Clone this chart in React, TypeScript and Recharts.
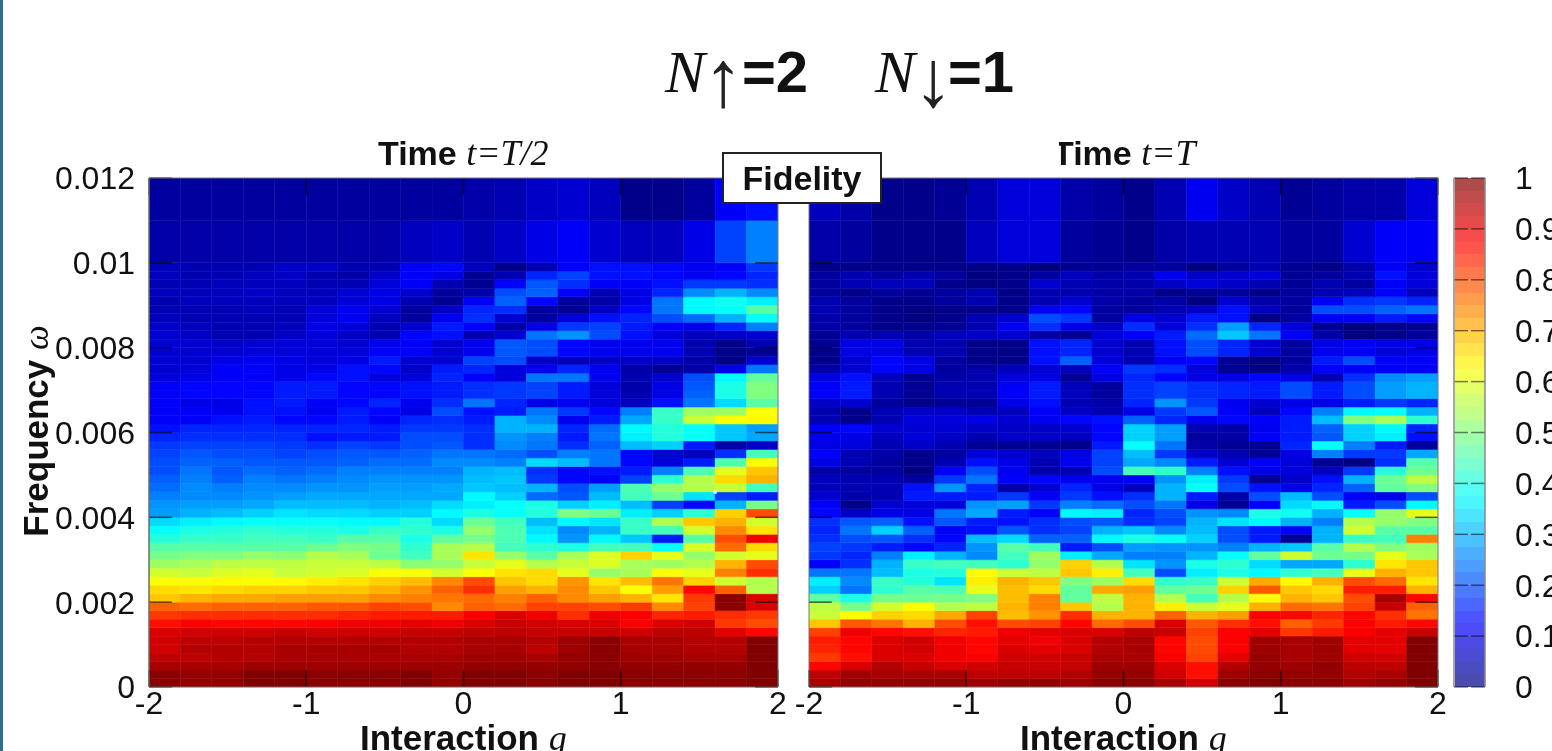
import { Bar, BarChart, Cell, ReferenceDot, ReferenceLine, XAxis, YAxis } from 'recharts';

// interaction g at the centre of each column
const gCenters = [-1.9, -1.7, -1.5, -1.3, -1.1, -0.9, -0.7, -0.5, -0.3, -0.1, 0.1, 0.3, 0.5, 0.7, 0.9, 1.1, 1.3, 1.5, 1.7, 1.9];

// height of each frequency row, top row first
const rowHeights = [
  0.001, 0.001,
  0.0002, 0.0002, 0.0002, 0.0002, 0.0002, 0.0002, 0.0002, 0.0002, 0.0002, 0.0002,
  0.0002, 0.0002, 0.0002, 0.0002, 0.0002, 0.0002, 0.0002, 0.0002, 0.0002, 0.0002,
  0.0002, 0.0002, 0.0002, 0.0002, 0.0002, 0.0002, 0.0002, 0.0002, 0.0002, 0.0002,
  0.0002, 0.0002, 0.0002, 0.0002, 0.0002, 0.0002, 0.0002, 0.0002, 0.0002, 0.0002,
  0.0002, 0.0002, 0.0002, 0.0002, 0.0002, 0.0002, 0.0002, 0.0002, 0.0002, 0.0002,
];

// fidelity in percent, top row first
const fidelityHalf = [
  [3, 3, 3, 3, 3, 3, 3, 3, 3, 3, 4, 5, 7, 8, 6, 1, 1, 3, 12, 14],
  [4, 4, 4, 4, 4, 4, 4, 4, 6, 7, 5, 7, 10, 12, 8, 6, 6, 10, 19, 25],
  [6, 5, 5, 5, 7, 7, 5, 5, 12, 13, 6, 1, 5, 12, 14, 14, 13, 11, 12, 18],
  [6, 5, 5, 6, 7, 5, 4, 7, 12, 10, 2, 5, 16, 19, 14, 14, 13, 11, 13, 16],
  [5, 5, 6, 6, 6, 5, 5, 9, 12, 5, 2, 13, 21, 17, 12, 12, 14, 18, 18, 17],
  [6, 6, 6, 7, 6, 6, 8, 10, 8, 3, 4, 20, 22, 12, 5, 10, 16, 26, 30, 26],
  [5, 6, 6, 6, 6, 6, 9, 10, 5, 2, 12, 22, 13, 3, 4, 10, 24, 37, 39, 36],
  [5, 5, 5, 6, 5, 9, 11, 8, 3, 7, 16, 17, 3, 2, 7, 13, 24, 37, 38, 46],
  [6, 5, 5, 5, 5, 9, 11, 6, 3, 11, 17, 8, 3, 9, 14, 16, 20, 23, 30, 38],
  [7, 6, 5, 5, 6, 10, 9, 5, 8, 15, 12, 4, 10, 18, 19, 15, 12, 10, 16, 25],
  [8, 7, 5, 5, 7, 9, 7, 5, 13, 14, 5, 8, 24, 27, 20, 14, 9, 6, 7, 8],
  [8, 8, 7, 8, 9, 9, 8, 11, 12, 8, 11, 21, 20, 13, 11, 11, 11, 5, 1, 5],
  [8, 8, 8, 9, 9, 9, 9, 12, 12, 8, 11, 21, 20, 13, 11, 11, 11, 5, 1, 2],
  [8, 8, 10, 11, 10, 9, 10, 15, 8, 8, 19, 20, 7, 6, 7, 7, 7, 4, 1, 8],
  [8, 9, 12, 12, 10, 10, 14, 13, 7, 15, 16, 9, 11, 16, 11, 4, 2, 4, 11, 24],
  [9, 10, 12, 12, 10, 13, 14, 9, 9, 16, 12, 9, 24, 24, 11, 5, 8, 20, 37, 47],
  [12, 13, 13, 13, 15, 15, 13, 13, 14, 15, 17, 18, 19, 15, 9, 4, 10, 21, 40, 50],
  [12, 13, 13, 13, 15, 15, 13, 13, 14, 15, 17, 18, 19, 15, 9, 5, 10, 22, 40, 50],
  [12, 10, 10, 14, 15, 12, 13, 16, 11, 17, 24, 16, 10, 11, 9, 6, 14, 24, 34, 46],
  [12, 12, 11, 14, 14, 11, 15, 13, 10, 20, 14, 15, 24, 18, 13, 25, 43, 53, 53, 62],
  [12, 12, 14, 15, 13, 13, 15, 12, 16, 17, 15, 30, 26, 11, 15, 29, 43, 57, 62, 63],
  [14, 16, 16, 16, 16, 16, 16, 15, 18, 18, 17, 30, 30, 16, 23, 37, 41, 38, 32, 28],
  [16, 17, 17, 17, 17, 14, 15, 15, 20, 20, 17, 27, 25, 15, 24, 36, 41, 38, 32, 29],
  [18, 19, 19, 19, 18, 17, 19, 18, 20, 21, 17, 26, 24, 17, 22, 31, 33, 15, 4, 7],
  [19, 21, 20, 20, 19, 20, 21, 21, 22, 24, 24, 23, 20, 25, 24, 13, 8, 6, 17, 44],
  [20, 22, 22, 21, 21, 21, 22, 23, 23, 26, 26, 25, 34, 31, 24, 13, 9, 15, 45, 62],
  [20, 24, 21, 23, 22, 23, 25, 25, 25, 25, 30, 31, 17, 13, 14, 15, 25, 45, 60, 68],
  [22, 25, 22, 25, 24, 25, 26, 27, 27, 27, 31, 32, 18, 13, 12, 19, 42, 55, 66, 70],
  [23, 26, 25, 26, 26, 27, 27, 28, 28, 29, 32, 31, 30, 20, 28, 45, 52, 55, 57, 44],
  [25, 26, 26, 27, 28, 29, 29, 29, 29, 29, 37, 33, 23, 21, 31, 44, 48, 35, 19, 15],
  [27, 28, 28, 29, 31, 31, 31, 30, 31, 34, 36, 38, 40, 33, 36, 31, 19, 13, 30, 49],
  [28, 30, 31, 33, 35, 34, 34, 33, 33, 37, 40, 38, 41, 50, 48, 36, 33, 42, 67, 80],
  [34, 36, 37, 38, 38, 38, 37, 37, 41, 34, 48, 44, 31, 37, 35, 43, 54, 68, 70, 58],
  [38, 40, 41, 42, 41, 41, 40, 43, 42, 40, 52, 45, 35, 26, 30, 43, 44, 58, 74, 65],
  [41, 43, 43, 44, 44, 43, 46, 46, 40, 47, 49, 45, 37, 27, 37, 32, 15, 46, 80, 89],
  [46, 46, 46, 46, 46, 48, 50, 49, 42, 54, 55, 44, 42, 40, 44, 44, 38, 59, 77, 66],
  [49, 50, 50, 52, 51, 55, 54, 48, 44, 54, 65, 52, 46, 54, 59, 67, 60, 52, 58, 60],
  [53, 54, 56, 56, 56, 57, 57, 56, 51, 52, 57, 60, 55, 57, 59, 54, 53, 55, 70, 80],
  [58, 57, 59, 60, 57, 58, 59, 62, 62, 58, 62, 65, 66, 60, 52, 54, 62, 60, 75, 83],
  [62, 62, 63, 62, 63, 64, 65, 67, 69, 74, 80, 68, 66, 73, 65, 69, 76, 67, 58, 55],
  [66, 65, 66, 67, 67, 68, 68, 70, 73, 78, 83, 72, 70, 74, 68, 62, 72, 87, 78, 55],
  [68, 70, 71, 71, 72, 72, 72, 74, 75, 76, 77, 75, 78, 74, 72, 70, 65, 82, 99, 91],
  [78, 77, 78, 78, 78, 79, 79, 81, 80, 74, 78, 77, 81, 81, 80, 82, 74, 81, 99, 91],
  [82, 83, 83, 83, 83, 83, 84, 85, 85, 85, 88, 91, 89, 83, 89, 88, 84, 85, 83, 82],
  [86, 88, 87, 87, 87, 88, 89, 89, 90, 89, 91, 93, 92, 91, 91, 88, 91, 92, 82, 80],
  [91, 92, 92, 92, 93, 92, 92, 92, 93, 93, 94, 94, 93, 93, 93, 92, 94, 94, 90, 87],
  [92, 94, 94, 95, 95, 95, 95, 95, 95, 95, 96, 96, 95, 97, 99, 96, 96, 95, 95, 100],
  [92, 95, 95, 95, 96, 96, 96, 96, 95, 95, 96, 96, 94, 97, 99, 96, 96, 95, 95, 100],
  [94, 94, 95, 95, 96, 96, 96, 96, 96, 96, 97, 97, 96, 98, 99, 97, 97, 96, 96, 100],
  [96, 96, 96, 97, 97, 97, 97, 97, 97, 97, 98, 98, 98, 98, 99, 98, 98, 98, 98, 100],
  [99, 98, 98, 100, 100, 99, 99, 99, 100, 98, 100, 100, 99, 100, 100, 99, 99, 99, 99, 100],
  [99, 98, 98, 100, 100, 99, 99, 99, 100, 98, 100, 100, 99, 100, 100, 99, 99, 99, 99, 100],
];

const fidelityFull = [
  [6, 4, 1, 1, 2, 5, 9, 9, 4, 3, 1, 5, 11, 7, 5, 2, 3, 4, 4, 9],
  [4, 3, 1, 1, 1, 6, 9, 9, 3, 2, 1, 4, 5, 5, 5, 3, 3, 8, 12, 12],
  [1, 1, 1, 1, 1, 1, 1, 0, 2, 2, 3, 3, 0, 3, 5, 2, 1, 4, 12, 8],
  [3, 5, 3, 5, 3, 0, 1, 3, 6, 4, 5, 11, 7, 8, 9, 2, 3, 5, 14, 9],
  [3, 5, 6, 6, 1, 0, 1, 8, 5, 4, 4, 7, 9, 7, 5, 2, 5, 3, 12, 9],
  [3, 1, 3, 2, 3, 5, 1, 5, 5, 4, 4, 1, 2, 3, 1, 3, 5, 6, 12, 6],
  [5, 3, 1, 1, 3, 5, 1, 5, 8, 4, 3, 4, 0, 8, 4, 3, 12, 17, 18, 16],
  [5, 3, 1, 0, 1, 1, 1, 11, 13, 3, 3, 5, 7, 14, 6, 3, 20, 20, 22, 24],
  [4, 3, 1, 0, 1, 5, 8, 20, 18, 3, 10, 8, 15, 14, 0, 3, 12, 12, 15, 13],
  [4, 3, 1, 1, 2, 5, 11, 17, 10, 7, 17, 9, 17, 28, 16, 9, 2, 0, 1, 2],
  [2, 5, 5, 4, 6, 7, 8, 4, 2, 9, 12, 15, 23, 32, 24, 12, 4, 0, 1, 3],
  [2, 10, 10, 5, 5, 1, 1, 14, 16, 8, 5, 14, 20, 16, 8, 3, 10, 12, 10, 10],
  [1, 10, 10, 5, 5, 1, 1, 14, 16, 8, 5, 14, 20, 16, 8, 3, 11, 12, 9, 10],
  [1, 8, 13, 10, 3, 1, 1, 14, 22, 9, 5, 12, 13, 2, 0, 3, 15, 20, 12, 12],
  [4, 8, 13, 10, 3, 4, 6, 8, 6, 12, 18, 17, 9, 2, 0, 4, 12, 12, 12, 12],
  [10, 14, 6, 2, 4, 5, 9, 10, 2, 10, 16, 13, 10, 10, 13, 10, 5, 17, 26, 28],
  [12, 15, 5, 2, 5, 5, 12, 15, 6, 3, 17, 19, 17, 16, 15, 20, 15, 20, 28, 30],
  [12, 15, 5, 2, 5, 5, 12, 15, 6, 3, 17, 19, 17, 16, 15, 20, 15, 20, 28, 30],
  [7, 8, 3, 1, 2, 2, 10, 14, 5, 4, 16, 27, 18, 11, 8, 10, 10, 15, 18, 16],
  [5, 1, 5, 7, 7, 5, 6, 12, 7, 5, 10, 18, 21, 12, 6, 13, 25, 37, 38, 30],
  [5, 1, 5, 9, 9, 10, 8, 11, 13, 14, 22, 16, 11, 13, 12, 15, 31, 50, 54, 42],
  [12, 13, 8, 8, 8, 7, 7, 7, 8, 13, 33, 28, 5, 4, 11, 15, 22, 33, 37, 16],
  [11, 10, 6, 9, 7, 5, 7, 7, 6, 13, 33, 28, 3, 4, 12, 15, 21, 33, 36, 14],
  [10, 9, 5, 7, 5, 2, 2, 2, 1, 15, 38, 24, 4, 2, 2, 16, 38, 25, 15, 3],
  [12, 5, 4, 1, 3, 9, 8, 6, 10, 19, 31, 18, 7, 5, 2, 10, 25, 18, 18, 29],
  [10, 5, 3, 1, 5, 14, 10, 5, 11, 19, 29, 26, 15, 8, 12, 9, 2, 0, 17, 46],
  [4, 3, 3, 0, 12, 20, 11, 4, 5, 20, 44, 42, 25, 14, 10, 9, 6, 18, 41, 48],
  [6, 5, 5, 3, 18, 24, 12, 13, 11, 11, 12, 27, 36, 18, 2, 7, 14, 30, 48, 56],
  [6, 5, 5, 14, 27, 16, 4, 8, 16, 10, 6, 30, 38, 20, 14, 10, 16, 22, 47, 50],
  [8, 4, 5, 15, 15, 15, 18, 12, 18, 14, 17, 30, 15, 4, 20, 31, 20, 12, 11, 20],
  [12, 1, 8, 9, 9, 27, 28, 18, 25, 23, 20, 24, 10, 2, 12, 34, 37, 15, 20, 37],
  [13, 7, 10, 10, 24, 29, 15, 12, 37, 36, 16, 20, 27, 26, 40, 39, 30, 38, 52, 60],
  [17, 21, 22, 14, 21, 15, 14, 17, 20, 21, 17, 19, 30, 35, 37, 30, 25, 55, 52, 50],
  [16, 24, 33, 22, 12, 14, 21, 17, 19, 30, 32, 26, 31, 20, 15, 12, 30, 58, 46, 46],
  [17, 20, 21, 17, 13, 31, 34, 22, 22, 37, 40, 38, 33, 20, 15, 2, 30, 43, 44, 75],
  [19, 18, 15, 13, 16, 27, 46, 44, 15, 20, 28, 27, 27, 25, 30, 32, 46, 55, 50, 53],
  [18, 16, 25, 36, 30, 26, 44, 53, 36, 29, 25, 25, 30, 38, 47, 58, 48, 49, 60, 54],
  [12, 17, 30, 43, 44, 44, 42, 52, 67, 55, 35, 27, 40, 42, 34, 29, 29, 42, 65, 68],
  [24, 24, 31, 40, 41, 62, 57, 56, 68, 64, 44, 20, 36, 40, 37, 42, 44, 60, 70, 68],
  [36, 26, 43, 41, 35, 64, 70, 68, 50, 53, 66, 42, 43, 57, 71, 63, 70, 80, 77, 65],
  [33, 24, 42, 46, 45, 60, 69, 66, 47, 71, 72, 47, 48, 67, 79, 68, 66, 85, 85, 70],
  [47, 40, 49, 48, 49, 50, 69, 75, 47, 56, 70, 55, 44, 55, 62, 70, 68, 80, 96, 87],
  [56, 49, 58, 62, 55, 56, 70, 75, 68, 55, 70, 64, 57, 60, 70, 77, 76, 81, 93, 78],
  [57, 63, 67, 66, 71, 81, 69, 73, 83, 70, 70, 78, 70, 72, 88, 87, 84, 87, 83, 76],
  [68, 79, 76, 70, 80, 86, 80, 81, 87, 77, 80, 91, 79, 83, 86, 78, 82, 88, 85, 87],
  [81, 89, 87, 86, 84, 85, 89, 90, 91, 91, 94, 93, 81, 88, 90, 82, 85, 88, 90, 93],
  [85, 87, 91, 92, 89, 87, 90, 89, 91, 95, 96, 87, 80, 88, 97, 96, 97, 90, 90, 100],
  [84, 87, 91, 92, 89, 87, 91, 90, 91, 95, 96, 87, 80, 88, 97, 96, 97, 90, 90, 100],
  [82, 86, 91, 91, 89, 88, 92, 92, 93, 96, 96, 88, 81, 90, 98, 96, 97, 92, 92, 100],
  [87, 91, 95, 93, 91, 92, 93, 93, 93, 97, 97, 91, 86, 95, 98, 97, 98, 94, 94, 100],
  [94, 97, 96, 96, 96, 94, 94, 94, 95, 98, 98, 92, 86, 97, 99, 98, 98, 95, 96, 100],
  [96, 98, 98, 98, 98, 97, 98, 98, 97, 99, 99, 96, 92, 99, 100, 99, 99, 97, 98, 100],
];

const colorbarLevels = [
  0.0125, 0.0375, 0.0625, 0.0875, 0.1125, 0.1375, 0.1625, 0.1875, 0.2125, 0.2375,
  0.2625, 0.2875, 0.3125, 0.3375, 0.3625, 0.3875, 0.4125, 0.4375, 0.4625, 0.4875,
  0.5125, 0.5375, 0.5625, 0.5875, 0.6125, 0.6375, 0.6625, 0.6875, 0.7125, 0.7375,
  0.7625, 0.7875, 0.8125, 0.8375, 0.8625, 0.8875, 0.9125, 0.9375, 0.9625, 0.9875,
];
const colorbarStep = 0.025;

const gTicks = [-2, -1, 0, 1, 2];
const freqTicks = [0, 0.002, 0.004, 0.006, 0.008, 0.01, 0.012];
const colorbarTicks = [0, 0.1, 0.2, 0.3, 0.4, 0.5, 0.6, 0.7, 0.8, 0.9, 1];

const FONT = '"Liberation Sans", Arial, sans-serif';
const SERIF = '"Liberation Serif", "DejaVu Serif", serif';
const TICK_STYLE = { fontSize: 32, fill: '#111', fontFamily: FONT };
const MARK = '#000000a0';

function jet(v: number, alpha = 1) {
  const ch = (t: number) => Math.round(255 * Math.max(0, Math.min(1, 1.5 - Math.abs(4 * v - t))));
  return `rgba(${ch(3)},${ch(2)},${ch(1)},${alpha})`;
}

function Panel({ rows, showY, left, width, marginLeft }: { rows: number[][]; showY: boolean; left: number; width: number; marginLeft: number }) {
  const chartData = gCenters.map((g) => {
    const row: Record<string, number> = { g };
    rowHeights.forEach((h, i) => {
      row[`r${i}`] = h;
    });
    return row;
  });
  // stack from the bottom row up
  const order = rowHeights.map((_, i) => rowHeights.length - 1 - i);

  return (
    <div style={{ position: 'absolute', left, top: 0 }}>
      <BarChart
        width={width}
        height={751}
        data={chartData}
        barSize={31.4}
        barGap={0}
        margin={{ top: 178, right: 12, bottom: 0, left: showY ? 0 : marginLeft }}
      >
        <XAxis
          dataKey="g"
          type="number"
          domain={[-2, 2]}
          ticks={gTicks}
          interval={0}
          allowDataOverflow
          height={64}
          tickSize={0}
          tickMargin={4}
          tick={TICK_STYLE}
          stroke="#666"
        />
        <YAxis
          type="number"
          domain={[0, 0.012]}
          ticks={freqTicks}
          interval={0}
          allowDataOverflow
          hide={!showY}
          width={149}
          tickSize={0}
          tickMargin={14}
          tick={TICK_STYLE}
          stroke="#666"
        />
        {order.map((rowIndex) => (
          <Bar key={rowIndex} dataKey={`r${rowIndex}`} stackId="f" isAnimationActive={false}>
            {gCenters.map((g, col) => {
              const color = jet(rows[rowIndex][col] / 100);
              return <Cell key={g} fill={color} stroke={color} strokeWidth={0.5} />;
            })}
          </Bar>
        ))}
        {gTicks.map((t) => (
          <ReferenceLine key={`b${t}`} segment={[{ x: t, y: 0 }, { x: t, y: 0.0004 }]} stroke={MARK} strokeWidth={1.5} />
        ))}
        {gTicks.map((t) => (
          <ReferenceLine key={`t${t}`} segment={[{ x: t, y: 0.012 }, { x: t, y: 0.0116 }]} stroke={MARK} strokeWidth={1.5} />
        ))}
        {freqTicks.map((t) => (
          <ReferenceLine key={`l${t}`} segment={[{ x: -2, y: t }, { x: -1.855, y: t }]} stroke={MARK} strokeWidth={1.5} />
        ))}
        {freqTicks.map((t) => (
          <ReferenceLine key={`r${t}`} segment={[{ x: 2, y: t }, { x: 1.855, y: t }]} stroke={MARK} strokeWidth={1.5} />
        ))}
        <ReferenceLine y={0.012} stroke="#777" strokeWidth={1} />
        <ReferenceLine x={-2} stroke="#777" strokeWidth={1} />
        <ReferenceLine x={2} stroke="#777" strokeWidth={1} />
        {showY && <ReferenceDot x={1.6} y={0.0046} r={2} fill="#fff" stroke="none" />}
      </BarChart>
    </div>
  );
}

function Colorbar() {
  const chartData = [
    colorbarLevels.reduce<Record<string, number>>(
      (row, _, i) => {
        row[`c${i}`] = colorbarStep;
        return row;
      },
      { x: 0.5 },
    ),
  ];
  return (
    <div style={{ position: 'absolute', left: 1440, top: 0 }}>
      <BarChart width={112} height={751} data={chartData} barSize={31} margin={{ top: 178, right: 0, bottom: 64, left: 14 }}>
        <XAxis dataKey="x" type="number" domain={[0, 1]} allowDataOverflow hide />
        <YAxis
          orientation="right"
          type="number"
          domain={[0, 1]}
          ticks={colorbarTicks}
          interval={0}
          allowDataOverflow
          width={67}
          tickSize={0}
          tickMargin={30}
          axisLine={false}
          tick={TICK_STYLE}
        />
        {colorbarLevels.map((v, i) => (
          <Bar key={v} dataKey={`c${i}`} stackId="c" isAnimationActive={false} fill={jet(v, 0.7)} stroke="none" shapeRendering="crispEdges" />
        ))}
        {colorbarTicks.map((t) => (
          <ReferenceLine key={`cl${t}`} segment={[{ x: 0, y: t }, { x: 0.45, y: t }]} stroke="#00000080" strokeWidth={1.5} />
        ))}
        {colorbarTicks.map((t) => (
          <ReferenceLine key={`cr${t}`} segment={[{ x: 0.55, y: t }, { x: 1, y: t }]} stroke="#00000080" strokeWidth={1.5} />
        ))}
        <ReferenceLine x={0} stroke="#888" strokeWidth={1.5} />
        <ReferenceLine x={1} stroke="#888" strokeWidth={1.5} />
      </BarChart>
    </div>
  );
}

const text = (left: number, top: number, size: number, extra = {}) => ({
  position: 'absolute' as const,
  left,
  top,
  fontFamily: FONT,
  fontSize: size,
  fontWeight: 700,
  lineHeight: 1,
  whiteSpace: 'nowrap' as const,
  color: '#111',
  ...extra,
});
const italic = { fontFamily: SERIF, fontStyle: 'italic', fontWeight: 400 };
const arrow = { fontWeight: 400, color: '#222' };

export default function App() {
  return (
    <div style={{ position: 'fixed', inset: 0, width: 1552, height: 751, background: '#fff', overflow: 'hidden', filter: 'blur(0.5px)' }}>
      <div style={{ position: 'absolute', left: 0, top: 0, width: 3, height: 751, background: '#2a6f90' }} />

      <Panel rows={fidelityHalf} showY left={0} width={790} marginLeft={0} />
      <Panel rows={fidelityFull} showY={false} left={790} width={660} marginLeft={19} />
      <Colorbar />

      <div style={text(665, 42, 60, italic)}>N</div>
      <div style={text(703, 39, 80, arrow)}>↑</div>
      <div style={text(742, 43, 58)}>=2</div>
      <div style={text(875, 42, 60, italic)}>N</div>
      <div style={text(913, 39, 80, arrow)}>↓</div>
      <div style={text(948, 43, 58)}>=1</div>

      <div style={text(378, 135, 34)}>
        Time <span style={{ ...italic, fontSize: 36 }}>t=T/2</span>
      </div>
      <div style={text(1053, 135, 34)}>
        Time <span style={{ ...italic, fontSize: 36 }}>t=T</span>
      </div>
      <div style={{ position: 'absolute', left: 1040, top: 130, width: 19, height: 40, background: '#fff' }} />

      <div
        style={{
          ...text(722, 152, 34),
          width: 160,
          height: 52,
          boxSizing: 'border-box',
          border: '2px solid #222',
          background: '#fff',
          textAlign: 'center',
          lineHeight: '48px',
        }}
      >
        Fidelity
      </div>

      <div style={text(360, 720, 35)}>
        Interaction <span style={{ ...italic, fontSize: 36 }}>g</span>
      </div>
      <div style={text(1020, 720, 35)}>
        Interaction <span style={{ ...italic, fontSize: 36 }}>g</span>
      </div>
      <div style={{ ...text(18, 416, 35), width: 30, height: 30, transformOrigin: 'center', transform: 'rotate(-90deg)', display: 'flex', justifyContent: 'center' }}>
        <span>
          Frequency <span style={italic}>ω</span>
        </span>
      </div>
    </div>
  );
}
